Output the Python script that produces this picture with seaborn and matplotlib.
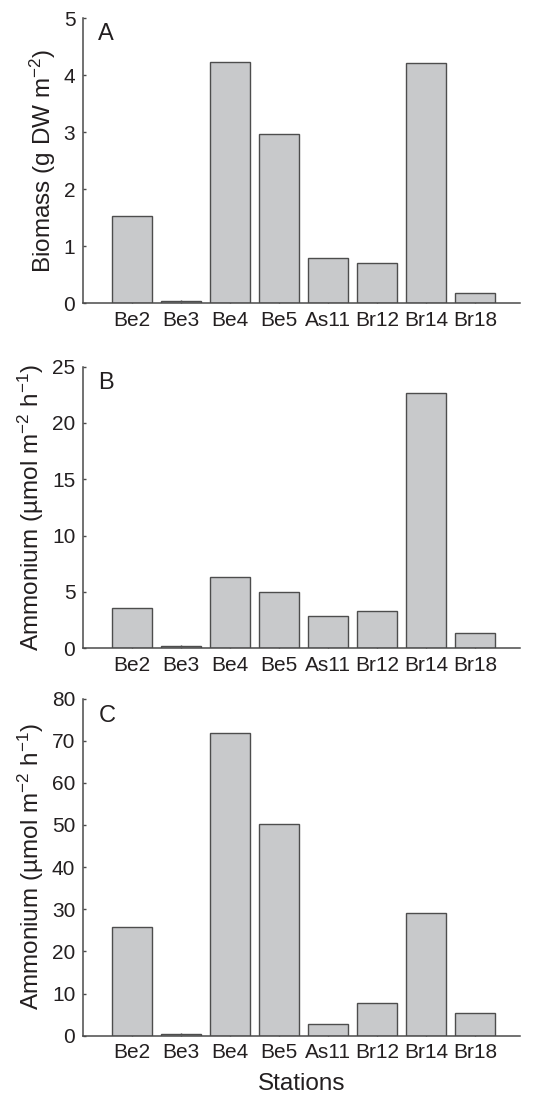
import matplotlib
matplotlib.use("Agg")
import matplotlib.pyplot as plt
import seaborn as sns
import pandas as pd

stations = ["Be2", "Be3", "Be4", "Be5", "As11", "Br12", "Br14", "Br18"]
biomass = [1.52, 0.03, 4.22, 2.96, 0.79, 0.70, 4.21, 0.17]
ammonium_b = [3.55, 0.15, 6.34, 4.98, 2.88, 3.29, 22.67, 1.30]
ammonium_c = [25.9, 0.3, 71.8, 50.3, 2.9, 7.7, 29.1, 5.4]

panel_letters = ["A", "B", "C"]
ylabels = ["Biomass (g DW m$^{-2}$)",
           "Ammonium (µmol m$^{-2}$ h$^{-1}$)",
           "Ammonium (µmol m$^{-2}$ h$^{-1}$)"]
ylims = [5, 25, 80]
yticks = [[0, 1, 2, 3, 4, 5], [0, 5, 10, 15, 20, 25], [0, 10, 20, 30, 40, 50, 60, 70, 80]]

sns.set_theme(style="white")
plt.rcParams['font.family'] = ['Liberation Sans', 'DejaVu Sans']
plt.rcParams['mathtext.fontset'] = 'custom'
plt.rcParams['mathtext.rm'] = 'Liberation Sans'
plt.rcParams['mathtext.it'] = 'Liberation Sans'

fig = plt.figure(figsize=(5.4, 10.98), dpi=100)
positions = [
    [0.1537, 0.724, 0.8093, 0.2596],
    [0.1537, 0.4098, 0.8093, 0.2562],
    [0.1537, 0.0567, 0.8093, 0.3071],
]
datasets = [biomass, ammonium_b, ammonium_c]
spine_col = "#4a4a4a"
text_col = "#231f20"
fs = 15
lfs = 17.5

for i, (vals, pos) in enumerate(zip(datasets, positions)):
    ax = fig.add_axes(pos)
    df = pd.DataFrame({"station": stations, "value": vals})
    sns.barplot(data=df, x="station", y="value", ax=ax, color="#c8c9cb",
                saturation=1, width=0.8, edgecolor="#4d4d4d", linewidth=1.0)
    ax.set_xlim(-1.0, 7.92)
    ax.set_ylim(0, ylims[i])
    ax.set_yticks(yticks[i])
    ax.set_yticklabels([str(t) for t in yticks[i]])
    for s in ["top", "right"]:
        ax.spines[s].set_visible(False)
    for s in ["left", "bottom"]:
        ax.spines[s].set_color(spine_col)
        ax.spines[s].set_linewidth(1.1)
    ax.tick_params(axis="both", direction="in", length=2.5, width=1, color=spine_col,
                   labelsize=fs, labelcolor=text_col, pad=5.5, left=True, bottom=True)
    ax.set_ylabel(ylabels[i], fontsize=lfs, color=text_col, labelpad=4)
    if i == 2:
        ax.set_xlabel("Stations", fontsize=lfs, color=text_col, labelpad=8)
    else:
        ax.set_xlabel("")
    ax.text(0.035, 0.982, panel_letters[i], transform=ax.transAxes, fontsize=17,
            color=text_col, va="top", ha="left")
    ax.set_facecolor("white")

fig.savefig("out.png", dpi=100, facecolor="white")
